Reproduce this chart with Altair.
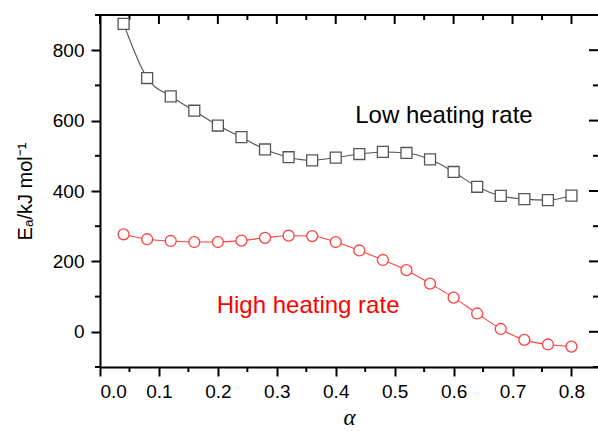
import altair as alt
import pandas as pd

alpha = [0.04, 0.08, 0.12, 0.16, 0.20, 0.24, 0.28, 0.32, 0.36, 0.40,
         0.44, 0.48, 0.52, 0.56, 0.60, 0.64, 0.68, 0.72, 0.76, 0.80]
low_rate = [875, 721, 669, 628, 586, 553, 518, 496, 487, 495,
            505, 511, 508, 490, 454, 412, 386, 377, 374, 387]
high_rate = [277, 263, 258, 255, 255, 259, 267, 273, 272, 255,
             231, 204, 175, 137, 97, 52, 8, -23, -36, -42]

x_major = [0.0, 0.1, 0.2, 0.3, 0.4, 0.5, 0.6, 0.7, 0.8]
x_minor = [0.05, 0.15, 0.25, 0.35, 0.45, 0.55, 0.65, 0.75]
y_major = [0, 200, 400, 600, 800]
y_minor = [-100, 100, 300, 500, 700, 900]

ann_text = ["Low heating rate", "High heating rate"]
ann_x = [0.433, 0.198]
ann_y = [593, 53]
ann_color = ["#000000", "#ff0000"]

W, H = 498, 352
XDOM = [0, 0.845]
YDOM = [-100, 900]
MAJ, MIN = 9, 5

df = pd.DataFrame({
    "alpha": alpha * 2,
    "Ea": low_rate + high_rate,
    "series": ["Low"] * len(alpha) + ["High"] * len(alpha),
})

xs = alt.Scale(domain=XDOM, nice=False, zero=False)
ys = alt.Scale(domain=YDOM, nice=False, zero=False)
cs = alt.Scale(domain=["Low", "High"], range=["#555555", "#ff4040"])
ss = alt.Scale(domain=["Low", "High"], range=["square", "circle"])

x_enc = alt.X("alpha:Q", scale=xs, axis=alt.Axis(
    values=x_major, format=".1f", tickSize=MAJ, labelPadding=6,
    title="α", titleFont="Liberation Serif", titleFontStyle="italic",
    titleFontWeight="normal", titleFontSize=23, titlePadding=5, grid=False))
y_enc = alt.Y("Ea:Q", scale=ys, axis=alt.Axis(
    values=y_major, format="d", tickSize=MAJ, labelPadding=7,
    title="Eₐ/kJ mol⁻¹", titleFontSize=20, titleFontWeight="normal",
    titlePadding=17, grid=False))

lines = alt.Chart(df).mark_line(strokeWidth=1.1, interpolate="monotone").encode(
    x=x_enc, y=y_enc,
    color=alt.Color("series:N", scale=cs, legend=None),
    detail="series:N",
)
points = alt.Chart(df).mark_point(filled=False, fill="white", fillOpacity=1, opacity=1,
                                  size=120, strokeWidth=1.3).encode(
    x=alt.X("alpha:Q", scale=xs),
    y=alt.Y("Ea:Q", scale=ys),
    color=alt.Color("series:N", scale=cs, legend=None),
    shape=alt.Shape("series:N", scale=ss, legend=None),
)

ann_df = pd.DataFrame({"t": ann_text, "x": ann_x, "y": ann_y, "c": ann_color})
ann = alt.Chart(ann_df).mark_text(align="left", baseline="alphabetic",
                                  font="Liberation Sans", fontSize=24).encode(
    x=alt.X("x:Q", scale=xs), y=alt.Y("y:Q", scale=ys),
    text="t:N", color=alt.Color("c:N", scale=None))

xmaj_df = pd.DataFrame({"xt": x_major})
xmin_df = pd.DataFrame({"xt": x_minor})
ymaj_df = pd.DataFrame({"yt": y_major})
ymin_df = pd.DataFrame({"yt": y_minor})

rk = dict(color="black", strokeWidth=2)
top_maj = alt.Chart(xmaj_df).mark_rule(**rk).encode(
    x=alt.X("xt:Q", scale=xs), y=alt.value(0), y2=alt.value(MAJ))
top_min = alt.Chart(xmin_df).mark_rule(**rk).encode(
    x=alt.X("xt:Q", scale=xs), y=alt.value(0), y2=alt.value(MIN))
bot_min = alt.Chart(xmin_df).mark_rule(**rk).encode(
    x=alt.X("xt:Q", scale=xs), y=alt.value(H), y2=alt.value(H + MIN))
left_min = alt.Chart(ymin_df).mark_rule(**rk).encode(
    y=alt.Y("yt:Q", scale=ys), x=alt.value(-MIN), x2=alt.value(0))
right_maj = alt.Chart(ymaj_df).mark_rule(**rk).encode(
    y=alt.Y("yt:Q", scale=ys), x=alt.value(W - MAJ), x2=alt.value(W))
right_min = alt.Chart(ymin_df).mark_rule(**rk).encode(
    y=alt.Y("yt:Q", scale=ys), x=alt.value(W - MIN), x2=alt.value(W))
top_border = alt.Chart(xmaj_df.head(1)).mark_rule(**rk).encode(
    x=alt.value(0), x2=alt.value(W), y=alt.value(0))

chart = alt.layer(
    top_border, top_maj, top_min, bot_min, left_min, right_maj, right_min,
    lines, points, ann
).properties(
    width=W, height=H,
    background="white",
    autosize=alt.AutoSizeParams(type="none"),
    padding={"left": 100, "top": 15, "right": 0, "bottom": 64},
).configure_view(stroke=None).configure_axis(
    domainColor="black", domainWidth=2, tickColor="black", tickWidth=2,
    labelColor="black", labelFont="Liberation Sans", labelFontSize=19,
    titleColor="black", titleFont="Liberation Sans",
)

chart.save("out.html", embed_options={"renderer": "svg", "actions": False})
